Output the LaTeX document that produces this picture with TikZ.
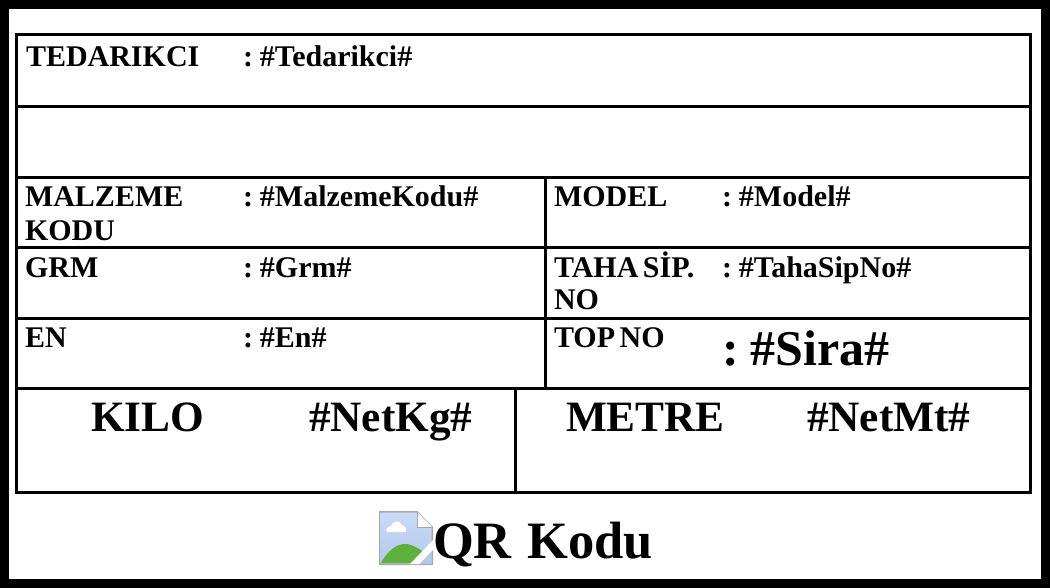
\documentclass[tikz,border=0pt]{standalone}
\usepackage{fontspec}
\setmainfont{Liberation Serif}
\newcommand{\fs}[1]{\fontsize{#1}{#1}\selectfont\bfseries\fontdimen2\font=0.15em\relax}
\newcommand{\qrfont}{\fontsize{52.5}{52.5}\selectfont\bfseries\fontdimen2\font=16pt\relax}
\definecolor{icontop}{HTML}{CBDAF6}
\definecolor{iconlow}{HTML}{B4C8EC}
\definecolor{iconhill}{HTML}{5CB13C}
\definecolor{iconedge}{HTML}{A8A8A8}
\tikzset{
  rule/.style={draw=black,line width=3pt},
  lab/.style={anchor=base west,inner sep=0pt,outer sep=0pt,font=\fs{30}},
  mid/.style={anchor=base west,inner sep=0pt,outer sep=0pt,font=\fs{43.3}},
}
\begin{document}
\begin{tikzpicture}[x=1pt,y=-1pt]
\useasboundingbox (0,0) rectangle (1050,588);
\fill[white] (0,0) rectangle (1050,588);
\draw[draw=black,line width=9pt] (4.5,4.5) rectangle (1045.5,583.5);
\draw[rule] (16.5,34.5) rectangle (1030.5,492);
\draw[rule] (16.5,107) -- (1030.5,107);
\draw[rule] (16.5,178) -- (1030.5,178);
\draw[rule] (16.5,248) -- (1030.5,248);
\draw[rule] (16.5,318) -- (1030.5,318);
\draw[rule] (16.5,388) -- (1030.5,388);
\draw[rule] (545,178) -- (545,388);
\draw[rule] (515,388) -- (515,492);
\node[lab] (t1) at (26,66.5) {TEDARIKCI};
\node[lab] (t2) at (243,66.5) {: \#Tedarikci\#};
\node[lab] (t3) at (25,206.5) {MALZEME};
\node[lab] (t4) at (25,240.5) {KODU};
\node[lab] (t5) at (243,206.5) {: \#MalzemeKodu\#};
\node[lab] (t6) at (554,206.5) {MODEL};
\node[lab] (t7) at (722,206.5) {: \#Model\#};
\node[lab] (t8) at (25,277) {GRM};
\node[lab] (t9) at (243,277) {: \#Grm\#};
\node[lab] (t10) at (554,277) {TAHA SİP.};
\node[lab] (t11) at (554,309.5) {NO};
\node[lab] (t12) at (722,277) {: \#TahaSipNo\#};
\node[lab] (t13) at (25,347) {EN};
\node[lab] (t14) at (243,347) {: \#En\#};
\node[lab] (t15) at (554,347) {TOP NO};
\node[mid,font=\fs{50}] (t16) at (722,365) {: \#Sira\#};
\node[mid] (t17) at (91,431.5) {KILO};
\node[mid] (t18) at (309,431.5) {\#NetKg\#};
\node[mid] (t19) at (566,431.5) {METRE};
\node[mid] (t20) at (807,431.5) {\#NetMt\#};
\node[mid,font=\qrfont] (t21) at (433,558) {QR Kodu};
% broken image icon
\fill[iconedge] (379,511) -- (417,511) -- (433,527) -- (433,565) -- (379,565) -- cycle;
\shade[top color=icontop,bottom color=iconlow] (380.5,512.5) -- (416.5,512.5) -- (431.5,527.5) -- (431.5,563.5) -- (380.5,563.5) -- cycle;
\fill[white] (391,526) .. controls (393,520) and (400,520) .. (402,525) .. controls (407,526) and (407,532) .. (405,532) -- (387,532) .. controls (385,530) and (388,526) .. (391,526) -- cycle;
\fill[iconhill] (381,563) .. controls (388,550) and (397,544) .. (405,544) .. controls (413,544) and (419,549) .. (425,553) -- (425,563) -- cycle;
\fill[white] (410,564) -- (433,540) -- (433,550) -- (420,564) -- cycle;
\fill[iconlow] (420,563.5) -- (431.5,551.5) -- (431.5,563.5) -- cycle;
\fill[white] (417,512) -- (417,527) -- (432,527) -- cycle;
\draw[iconedge,line width=1pt] (417,511) -- (417,527) -- (433,527);
\end{tikzpicture}
\end{document}
